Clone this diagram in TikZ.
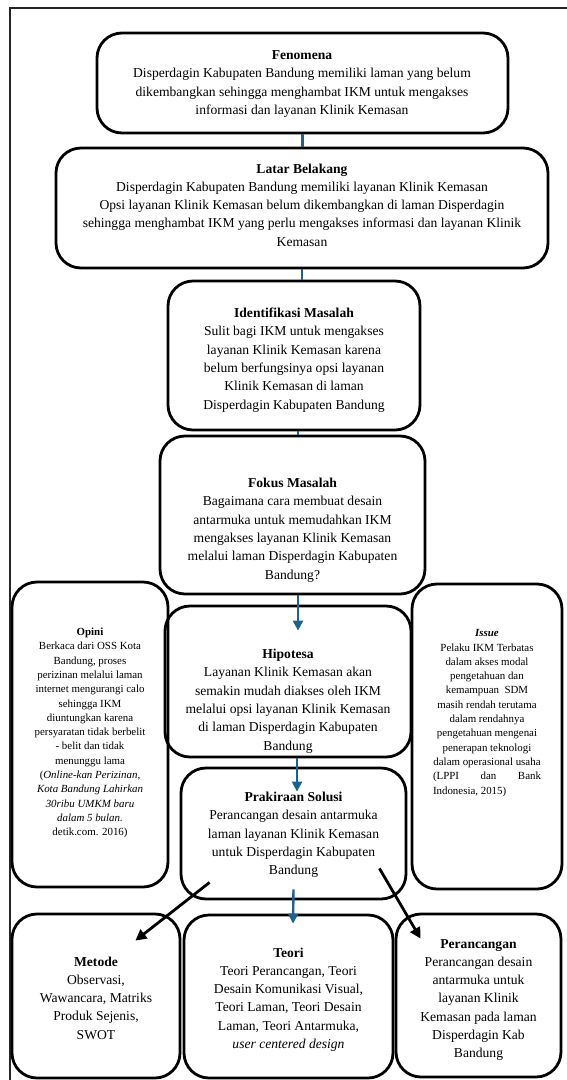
\documentclass[tikz,border=0pt]{standalone}
\usepackage{fontspec}
\setmainfont{Liberation Serif}
\usetikzlibrary{arrows.meta}
\definecolor{connblue}{RGB}{31,97,141}
\begin{document}
\begin{tikzpicture}[x=1pt,y=-1pt,
  box/.style={draw,line width=2.8pt,rounded corners=25pt,inner sep=0pt},
  txt/.style={align=center,inner sep=0pt,font=\fontsize{13.6}{18.3}\selectfont},
  stxt/.style={align=center,inner sep=0pt,font=\fontsize{10.9}{14.3}\selectfont},
  bl/.style={draw=connblue,line width=2.4pt},
  bla/.style={bl,-{Triangle[width=10pt,length=10pt]}},
  blk/.style={line width=2.8pt,-{Triangle[width=11pt,length=11pt]}}]
\useasboundingbox (0,0) rectangle (566,1080);
\draw[line width=1.3pt,black!85] (570,8) -- (10,8) -- (10,1085);

% boxes
\node[box,minimum width=411pt,minimum height=100pt] (fen) at (302.5,83) {};
\node[box,minimum width=492pt,minimum height=120pt] (lat) at (302,208) {};
\node[box,minimum width=252pt,minimum height=149pt] (idn) at (294,355.5) {};
\node[box,minimum width=265pt,minimum height=158pt] (fok) at (292.5,515) {};
\node[box,minimum width=156pt,minimum height=305pt] (opi) at (90,734.5) {};
\node[box,minimum width=246pt,minimum height=151pt] (hip) at (288,681.5) {};
\node[box,minimum width=150pt,minimum height=305pt] (iss) at (487,736.5) {};
\node[box,minimum width=225pt,minimum height=131pt] (pra) at (293.5,833.5) {};
\node[box,minimum width=168pt,minimum height=164pt] (met) at (96,996) {};
\node[box,minimum width=209pt,minimum height=163pt] (teo) at (288.5,996.5) {};
\node[box,minimum width=165pt,minimum height=163pt] (per) at (478.5,995.5) {};

% texts
\node[txt] (fent) at (302,84) {\textbf{Fenomena}\\Disperdagin Kabupaten Bandung memiliki laman yang belum\\dikembangkan sehingga menghambat IKM untuk mengakses\\informasi dan layanan Klinik Kemasan};
\node[txt] (latt) at (302,205) {\textbf{Latar Belakang}\\Disperdagin Kabupaten Bandung memiliki layanan Klinik Kemasan\\Opsi layanan Klinik Kemasan belum dikembangkan di laman Disperdagin\\sehingga menghambat IKM yang perlu mengakses informasi dan layanan Klinik\\Kemasan};
\node[txt] (idnt) at (294,360) {\textbf{Identifikasi Masalah}\\Sulit bagi IKM untuk mengakses\\layanan Klinik Kemasan karena\\belum berfungsinya opsi layanan\\Klinik Kemasan di laman\\Disperdagin Kabupaten Bandung};
\node[txt] (fokt) at (292.5,530) {\textbf{Fokus Masalah}\\Bagaimana cara membuat desain\\antarmuka untuk memudahkan IKM\\mengakses layanan Klinik Kemasan\\melalui laman Disperdagin Kabupaten\\Bandung?};
\node[txt] (hipt) at (288,701) {\textbf{Hipotesa}\\Layanan Klinik Kemasan akan\\semakin mudah diakses oleh IKM\\melalui opsi layanan Klinik Kemasan\\di laman Disperdagin Kabupaten\\Bandung};
\node[txt] (prat) at (293.5,835) {\textbf{Prakiraan Solusi}\\Perancangan desain antarmuka\\laman layanan Klinik Kemasan\\untuk Disperdagin Kabupaten\\Bandung};
\node[stxt] (opit) at (90,733) {\textbf{Opini}\\Berkaca dari OSS Kota\\Bandung, proses\\perizinan melalui laman\\internet mengurangi calo\\sehingga IKM\\diuntungkan karena\\persyaratan tidak berbelit\\- belit dan tidak\\menunggu lama\\(\textit{Online-kan Perizinan,}\\\textit{Kota Bandung Lahirkan}\\\textit{30ribu UMKM baru}\\\textit{dalam 5 bulan.}\\detik.com. 2016)};
\node[stxt] (isst) at (487,713) {\textbf{\textit{Issue}}\\Pelaku IKM Terbatas\\dalam akses modal\\pengetahuan dan\\kemampuan\ \ SDM\\masih rendah terutama\\dalam rendahnya\\pengetahuan mengenai\\penerapan teknologi\\dalam operasional usaha\\\makebox[108pt][s]{(LPPI\hfill dan\hfill Bank}\\\makebox[108pt][l]{Indonesia, 2015)}};
\node[txt] (mett) at (96,998) {\textbf{Metode}\\Observasi,\\Wawancara, Matriks\\Produk Sejenis,\\SWOT};
\node[txt] (teot) at (288.5,999.5) {\textbf{Teori}\\Teori Perancangan, Teori\\Desain Komunikasi Visual,\\Teori Laman, Teori Desain\\Laman, Teori Antarmuka,\\\textit{user centered design}};
\node[txt] (pert) at (478.5,1000) {\textbf{Perancangan}\\Perancangan desain\\antarmuka untuk\\layanan Klinik\\Kemasan pada laman\\Disperdagin Kab\\Bandung};

% connectors
\draw[bl] (fen.south) -- (fen.south |- lat.north);
\draw[bl] (lat.south) -- (lat.south |- idn.north);
\draw[bl] ([xshift=4pt]idn.south) -- ([xshift=4pt]idn.south |- fok.north);
\draw[bla] ([xshift=5.5pt]fok.south) -- ([xshift=10pt,yshift=-26pt]hip.north);
\draw[bla] ([xshift=9pt]hip.south) -- ([xshift=3.5pt,yshift=-25pt]pra.north);
\draw[bla] ([yshift=11pt]pra.south) -- ([xshift=4.5pt,yshift=-10pt]teo.north);
\draw[blk] ([xshift=30pt,yshift=18pt]pra.south west) -- ([xshift=-46pt,yshift=-28pt]met.north east);
\draw[blk] ([xshift=-28pt,yshift=32pt]pra.south east) -- ([xshift=26pt,yshift=-26pt]per.north west);
\end{tikzpicture}
\end{document}
